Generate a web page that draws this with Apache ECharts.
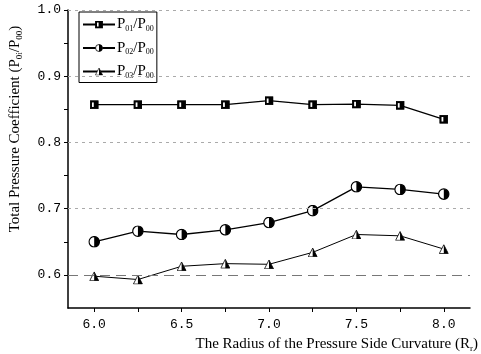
<!DOCTYPE html>
<html><head><meta charset="utf-8">
<script src="https://cdn.jsdelivr.net/npm/echarts@6/dist/echarts.min.js"></script>
<style>html,body{margin:0;padding:0;background:#fff}#c{width:481px;height:354px}</style>
</head><body><div id="c"></div>
<script>
const radius = [6.0, 6.25, 6.5, 6.75, 7.0, 7.25, 7.5, 7.75, 8.0];
const p01 = [0.857, 0.857, 0.857, 0.857, 0.863, 0.857, 0.858, 0.856, 0.835];
const p02 = [0.650, 0.666, 0.661, 0.668, 0.679, 0.697, 0.733, 0.729, 0.722];
const p03 = [0.598, 0.593, 0.613, 0.617, 0.616, 0.634, 0.661, 0.659, 0.639];
const xLabels = [6.0, 6.5, 7.0, 7.5, 8.0];
const xTicks = [6.0, 6.25, 6.5, 6.75, 7.0, 7.25, 7.5, 7.75, 8.0];
const yLabels = [0.6, 0.7, 0.8, 0.9, 1.0];
const yTicks = [0.6, 0.65, 0.7, 0.75, 0.8, 0.85, 0.9, 0.95, 1.0];
const gridValues = [0.6, 0.7, 0.8, 0.9, 1.0];
const names = ['P01/P00', 'P02/P00', 'P03/P00'];

function svg(s){ return 'image://data:image/svg+xml;charset=utf-8,' + encodeURIComponent(s); }
const sqSym = svg("<svg xmlns='http://www.w3.org/2000/svg' width='10' height='10'><rect x='0.5' y='0.5' width='9' height='9' fill='black' stroke='black'/><rect x='2.5' y='2.5' width='2' height='5' fill='white'/></svg>");
const ciSym = svg("<svg xmlns='http://www.w3.org/2000/svg' width='12' height='12'><circle cx='6' cy='6' r='5.2' fill='white' stroke='black' stroke-width='1.2'/><path d='M6 0.8 A5.2 5.2 0 0 1 6 11.2 Z' fill='black'/></svg>");
const trSym = svg("<svg xmlns='http://www.w3.org/2000/svg' width='10' height='10'><polygon points='5,0.7 9.5,9.5 0.5,9.5' fill='white' stroke='black' stroke-width='0.8'/><polygon points='5,0.7 9.5,9.5 5,9.5' fill='black'/></svg>");

const rich = {
  a: {fontFamily: 'Liberation Serif', fontSize: 15, color: '#000'},
  s: {fontFamily: 'Liberation Serif', fontSize: 8, color: '#000', verticalAlign: 'bottom', padding: [8, 0, 0, 0]}
};
function subFmt(n){
  const [num, den] = n.split('/');
  return '{a|' + num[0] + '}{s|' + num.slice(1) + '}{a|/' + den[0] + '}{s|' + den.slice(1) + '}';
}

const chart = echarts.init(document.getElementById('c'), null, {renderer: 'canvas'});
const gridStyle = v => v === 0.6
  ? {color: '#777', type: [10, 6], width: 1}
  : {color: '#aaa', type: [3, 4], width: 1};

chart.setOption({
  animation: false,
  grid: {left: 62, right: 11, top: 10, bottom: 46},
  legend: {
    orient: 'vertical', left: 79, top: 12,
    itemWidth: 32, itemHeight: 10, itemGap: 8,
    padding: [5, 3, 3, 3],
    backgroundColor: '#fff',
    borderColor: '#000', borderWidth: 1,
    data: names,
    formatter: n => subFmt(n),
    textStyle: {rich: rich, padding: [0, 0, 0, -3]}
  },
  xAxis: {
    type: 'value', min: 5.85, max: 8.15,
    name: '{a|The Radius of the Pressure Side Curvature (R}{s|r}{a|)}',
    nameLocation: 'end', nameGap: 8,
    nameTextStyle: {align: 'right', verticalAlign: 'top', padding: [28, 0, 0, 0],
      rich: {a: {fontFamily: 'Liberation Serif', fontSize: 15, color: '#000'},
             s: {fontFamily: 'Liberation Serif', fontSize: 9, color: '#000', padding: [8, 0, 0, 0]}}},
    axisLine: {show: true, lineStyle: {color: '#000', width: 1.5}},
    axisTick: {show: true, customValues: xTicks, length: 4, lineStyle: {color: '#000'}},
    axisLabel: {customValues: xLabels, formatter: v => v.toFixed(1), color: '#000',
      fontFamily: 'Liberation Mono', fontSize: 13, margin: 10},
    splitLine: {show: false}
  },
  yAxis: {
    type: 'value', min: 0.55, max: 1.0,
    name: '{a|Total Pressure Coefficient (P}{s|0i}{a|/P}{s|00}{a|)}',
    nameLocation: 'middle', nameGap: 44, nameRotate: 90,
    nameTextStyle: {padding: [0, 0, 0, 60],
      rich: {a: {fontFamily: 'Liberation Serif', fontSize: 15, color: '#000'},
             s: {fontFamily: 'Liberation Serif', fontSize: 9, color: '#000', padding: [8, 0, 0, 0]}}},
    axisLine: {show: true, lineStyle: {color: '#000', width: 1.5}},
    axisTick: {show: true, customValues: yTicks, length: 4, lineStyle: {color: '#000'}},
    axisLabel: {customValues: yLabels, formatter: v => v.toFixed(1), color: '#000',
      fontFamily: 'Liberation Mono', fontSize: 13, margin: 7},
    splitLine: {show: false}
  },
  series: [
    {name: names[0], type: 'line', data: radius.map((x, i) => [x, p01[i]]),
     symbol: sqSym, symbolSize: 9, lineStyle: {color: '#000', width: 1.3}, itemStyle: {color: '#000'},
     markLine: {silent: true, symbol: 'none', label: {show: false},
       data: gridValues.map(v => ({yAxis: v, lineStyle: gridStyle(v)}))}},
    {name: names[1], type: 'line', data: radius.map((x, i) => [x, p02[i]]),
     symbol: ciSym, symbolSize: 12, lineStyle: {color: '#000', width: 1.3}, itemStyle: {color: '#000'}},
    {name: names[2], type: 'line', data: radius.map((x, i) => [x, p03[i]]),
     symbol: trSym, symbolSize: 10, lineStyle: {color: '#000', width: 1}, itemStyle: {color: '#000'}}
  ]
});
</script></body></html>
